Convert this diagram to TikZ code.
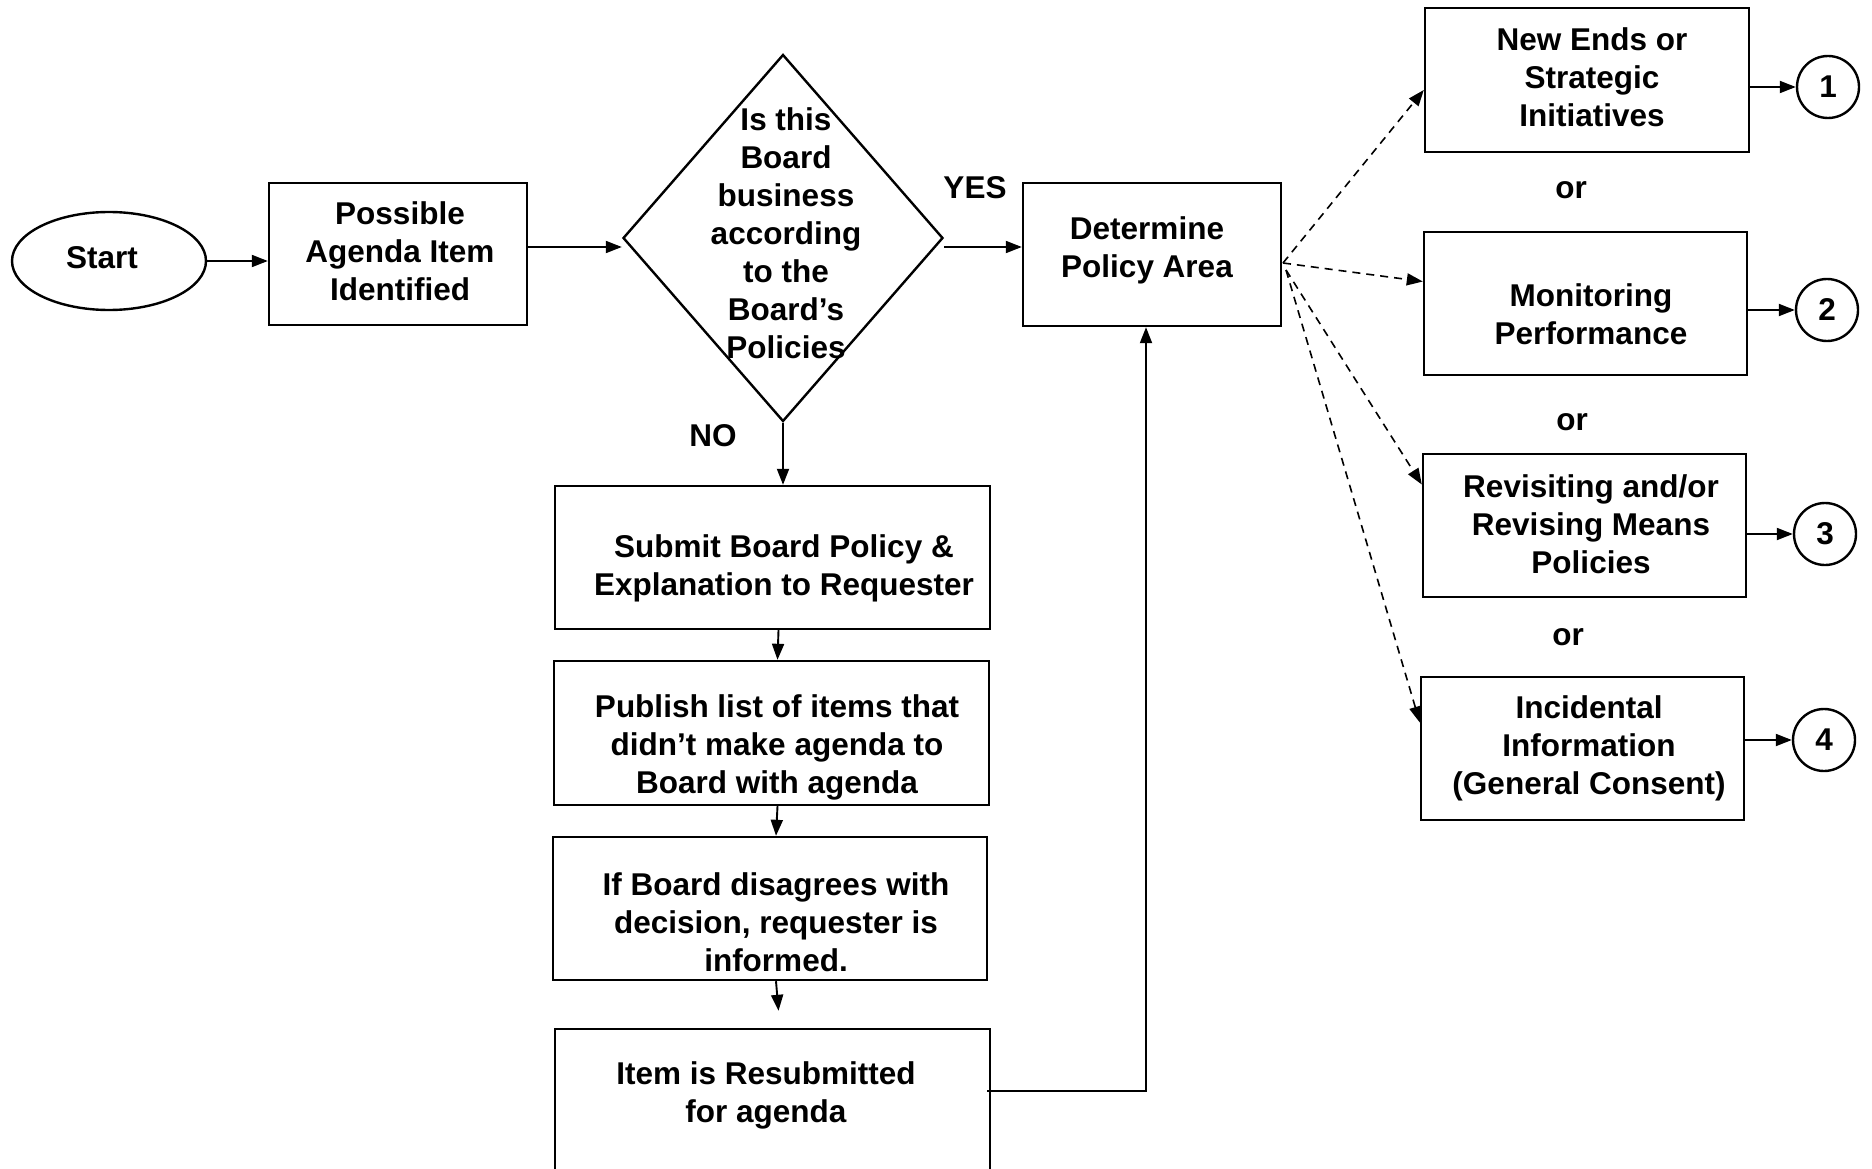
\documentclass[tikz,border=0pt]{standalone}
\usepackage{fontspec}
\setmainfont{Liberation Sans}
\usetikzlibrary{shapes.geometric,arrows.meta}
\tikzset{
  boxnode/.style={draw, line width=2.4pt, rectangle, inner sep=0pt},
  txt/.style={align=center, font=\fontsize{31.5}{38}\selectfont\bfseries, inner sep=0pt},
  arr/.style={line width=1.9pt, -{Triangle[length=16pt,width=12pt]}},
  darr/.style={line width=1.6pt, dash pattern=on 8pt off 6pt, -{Triangle[length=16pt,width=12pt]}},
  circ/.style={draw, line width=2.4pt, circle, minimum size=62pt, inner sep=0pt, font=\fontsize{31.5}{38}\selectfont\bfseries},
}
\begin{document}
\begin{tikzpicture}[x=1pt,y=-1pt]
\useasboundingbox (0,0) rectangle (1872,1169);
\clip (0,0) rectangle (1872,1169);
\fill[white] (0,0) rectangle (1872,1169);

% start
\node[draw, line width=2.4pt, ellipse, minimum width=194pt, minimum height=98pt, inner sep=0pt] (start) at (109,261) {};
\node[txt] (startT) at (102,258) {Start};

% possible
\node[boxnode, minimum width=258pt, minimum height=142pt] (poss) at (398,254) {};
\node[txt] (possT) at (400,251) {Possible\\Agenda Item\\Identified};

% diamond
\node[draw, line width=2.4pt, diamond, minimum width=320pt, minimum height=367pt, inner sep=0pt] (dia) at (783,238) {};
\node[txt] (diaT) at (786,233) {Is this\\Board\\business\\according\\to the\\Board’s\\Policies};

% determine
\node[boxnode, minimum width=258pt, minimum height=143pt] (det) at (1152,254.5) {};
\node[txt] (detT) at (1147,250) {Determine\\Policy Area};

\node[txt] (yes) at (975,188) {YES};
\node[txt] (no) at (713,436) {NO};

% left column
\node[boxnode, minimum width=435pt, minimum height=143pt] (sub) at (772.5,557.5) {};
\node[txt] (subT) at (784,568) {Submit Board Policy \&\\Explanation to Requester};
\node[boxnode, minimum width=435pt, minimum height=144pt] (pub) at (771.5,733) {};
\node[txt] (pubT) at (777,747) {Publish list of items that\\didn’t make agenda to\\Board with agenda};
\node[boxnode, minimum width=434pt, minimum height=143pt] (ifb) at (770,908.5) {};
\node[txt] (ifbT) at (776,922) {If Board disagrees with\\decision, requester is\\informed.};
\node[boxnode, minimum width=435pt, minimum height=171pt] (item) at (772.5,1114.5) {};
\node[txt] (itemT) at (766,1095) {Item is Resubmitted\\for agenda};

% right column
\node[boxnode, minimum width=324pt, minimum height=144pt] (ne) at (1587,80) {};
\node[txt] (neT) at (1592,77) {New Ends or\\Strategic\\Initiatives};
\node[boxnode, minimum width=323pt, minimum height=143pt] (mon) at (1585.5,303.5) {};
\node[txt] (monT) at (1591,314) {Monitoring\\Performance};
\node[boxnode, minimum width=323pt, minimum height=143pt] (rev) at (1584.5,525.5) {};
\node[txt] (revT) at (1591,524) {Revisiting and/or\\Revising Means\\Policies};
\node[boxnode, minimum width=323pt, minimum height=143pt] (inc) at (1582.5,748.5) {};
\node[txt] (incT) at (1589,748) {Incidental\\Information\\(General Consent)};

\node[txt] (or1) at (1571,190) {or};
\node[txt] (or2) at (1572,422) {or};
\node[txt] (or3) at (1568,637) {or};

\node[circ] (c1) at (1828,87) {1};
\node[circ] (c2) at (1827,310) {2};
\node[circ] (c3) at (1825,534) {3};
\node[circ] (c4) at (1824,740) {4};

% main connectors
\draw[arr] (start.east) -- (poss.west |- start.east);
\draw[arr] ([yshift=7pt]poss.east) -- ([yshift=7pt]poss.east -| dia.west);
\coordinate (yl) at (0,247);
\draw[arr] (dia.east |- yl) -- (det.west |- yl);
\draw[arr] (dia.south) -- (dia.south |- sub.north);
\draw[arr] ([xshift=6pt]sub.south) -- ([xshift=6pt]pub.north);
\draw[arr] ([xshift=6pt]pub.south) -- ([xshift=6pt]ifb.north);
\draw[arr] ([xshift=6pt]ifb.south) -- ([xshift=6pt,yshift=17pt]item.north);
\coordinate (ret) at (1146,1091);
\draw[arr] ([xshift=-4pt]item.east |- ret) -- (ret) -- (ret |- det.south);

% dashed
\coordinate (ds1) at (1283,263);
\coordinate (ds2) at (1286,270);
\draw[darr] (ds1) -- ([yshift=-10pt]ne.west);
\draw[darr] (ds1) -- ([yshift=22pt]mon.west);
\draw[darr] (ds2) -- ([yshift=41pt]rev.west);
\draw[darr] (ds2) -- ([yshift=26pt]inc.west);

% to circles
\draw[arr] (ne.east |- c1) -- (c1);
\draw[arr] (mon.east |- c2) -- (c2);
\draw[arr] (rev.east |- c3) -- (c3);
\draw[arr] (inc.east |- c4) -- (c4);
\end{tikzpicture}
\end{document}
